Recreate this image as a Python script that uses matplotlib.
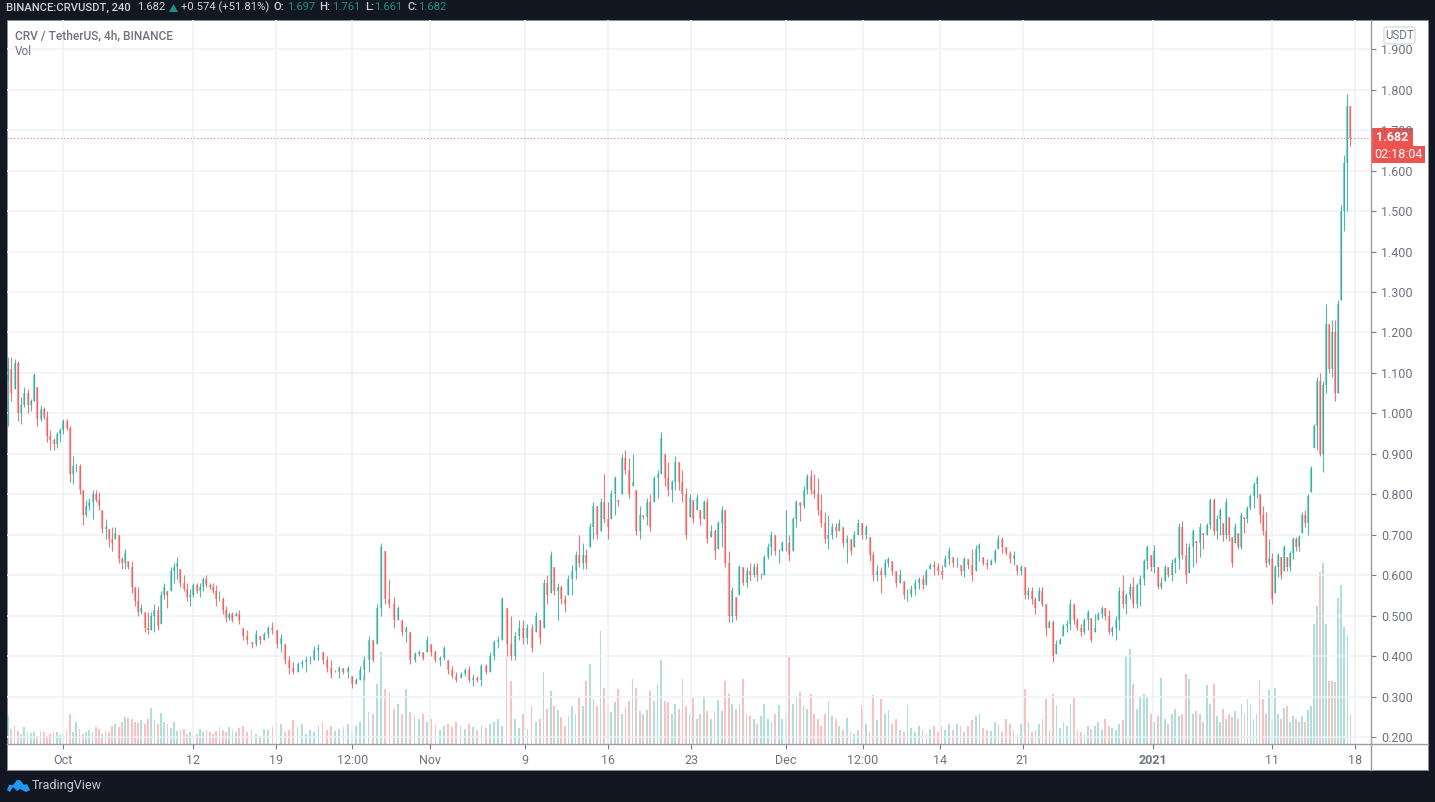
import numpy as np
import matplotlib
matplotlib.use('Agg')
import matplotlib.pyplot as plt
from matplotlib.patches import Rectangle, FancyBboxPatch, Polygon

W, H = 1435, 802
plt.rcParams['font.family'] = ['Roboto', 'DejaVu Sans']

DARK = '#131722'
UP = '#26a69a'
DOWN = '#ef5350'
GRID = '#edf1f6'
TXT = '#6f7280'

# each stretch of candles left to right (low, high, close, volume)
lows_a = [.97,1.03,1.06,.98,.975,1.015,1.0,1.005,1.03,.97,
          .98,.985,.93,.91,.91,.915,.93,.95,.96,.83,
          .825,.855,.80,.725,.745,.76,.74,.78,.76,.705,
          .69,.67,.66,.69,.63,.615,.615,.615,.555,.525,
          .50,.505,.46,.455,.465,.46,.465,.48,.54,.52,
          .56,.58,.59,.57,.56,.535,.525,.545,.555,.545,
          .56,.57,.565,.555,.525,.535,.505,.485,.49,.485,
          .50]
highs_a = [1.14,1.14,1.135,1.13,1.04,1.065,1.06,1.035,1.10,1.065,
           1.02,1.015,1.005,.96,.94,.955,.965,.985,.985,.97,
           .895,.875,.875,.81,.785,.79,.81,.81,.805,.76,
           .74,.715,.72,.72,.70,.645,.665,.635,.635,.57,
           .57,.53,.51,.51,.51,.53,.525,.56,.58,.56,
           .62,.63,.645,.615,.60,.58,.565,.58,.58,.58,
           .595,.60,.58,.58,.575,.56,.545,.525,.51,.51,
           .51]
closes_a = [1.11,1.05,1.125,1.00,1.02,1.05,1.02,1.03,1.095,.985,
            1.01,.99,.945,.935,.925,.95,.96,.98,.965,.85,
            .87,.87,.81,.75,.77,.78,.80,.785,.77,.715,
            .72,.69,.68,.705,.64,.63,.655,.62,.57,.535,
            .51,.52,.47,.465,.50,.515,.475,.55,.57,.55,
            .61,.62,.63,.58,.565,.545,.55,.575,.56,.57,
            .59,.575,.57,.56,.54,.54,.515,.495,.505,.49,
            .505]
vols_a = [28,15,18,13,10,17,12,11,12,8,
          13,12,8,10,12,12,9,10,14,30,
          12,22,15,10,12,14,12,17,15,10,
          13,12,18,20,17,22,27,26,25,22,
          21,24,20,25,36,24,20,31,22,20,
          16,22,13,14,15,10,12,8,10,15,
          12,14,12,10,13,17,14,12,17,14,
          12]

lows_b = [.48,.44,.43,.42,.425,.43,.44,.445,.455,.42,
          .41,.38,.355,.355,.36,.37,.36,.38,.39,.39,
          .38,.36,.345,.36,.345,.355,.345,.32,.33,.34,
          .34,.36,.385,.43,.50,.53,.52,.47,.49,.45,
          .435,.38,.385,.40,.39,.41,.40,.385,.375,.39,
          .355,.345,.335,.345,.35,.335,.325,.335,.325,.355,
          .36,.39,.42,.44,.40,.39,.39,.44,.43,.43,
          .41,.46]
highs_b = [.515,.47,.465,.435,.465,.45,.46,.475,.485,.465,
           .455,.43,.40,.385,.385,.39,.40,.40,.425,.43,
           .41,.40,.39,.365,.375,.37,.375,.35,.345,.375,
           .40,.45,.44,.53,.68,.66,.59,.545,.525,.49,
           .475,.46,.41,.415,.41,.45,.43,.415,.40,.425,
           .39,.375,.36,.36,.37,.375,.355,.35,.38,.38,
           .41,.44,.45,.545,.52,.50,.46,.49,.49,.48,
           .48,.51]
closes_b = [.49,.45,.44,.43,.455,.44,.455,.47,.465,.43,
            .445,.39,.37,.36,.38,.385,.39,.39,.415,.42,
            .39,.37,.355,.36,.37,.36,.37,.33,.34,.365,
            .39,.44,.39,.52,.67,.54,.53,.49,.52,.46,
            .47,.39,.405,.41,.395,.44,.41,.39,.395,.42,
            .365,.35,.34,.355,.365,.34,.345,.34,.375,.36,
            .40,.435,.44,.54,.43,.40,.45,.47,.445,.47,
            .42,.50]
vols_b = [16,18,12,14,10,8,15,14,17,22,
          20,12,14,24,17,20,10,14,12,18,
          22,14,18,13,15,17,20,14,18,22,
          69,32,30,60,92,55,52,35,40,30,
          55,32,28,25,30,22,25,19,14,18,
          20,17,22,18,15,20,17,14,18,16,
          20,22,25,18,87,63,25,16,30,15,
          38,22]

lows_c = [.43,.47,.53,.555,.55,.49,.53,.51,.55,.55,
          .59,.62,.615,.615,.67,.69,.69,.71,.73,.69,
          .74,.75,.77,.80,.85,.79,.82,.70,.69,.74,
          .725,.71,.78,.79,.85,.82,.795,.78,.81,.81,
          .78,.69,.745,.73,.76,.725,.74,.68,.695,.64,
          .665,.67,.62,.485,.485,.49,.55,.575,.57,.585,
          .595,.585,.59,.60,.64,.65,.65,.63,.66,.66,
          .635,.66,.72,.735,.765,.80,.80,.79,.75,.72,
          .68,.665,.69,.695]
highs_c = [.49,.59,.60,.66,.62,.58,.575,.55,.60,.625,
           .66,.70,.68,.665,.73,.78,.77,.79,.85,.78,
           .81,.845,.785,.90,.91,.89,.90,.81,.77,.75,
           .79,.80,.845,.86,.955,.90,.88,.835,.895,.88,
           .86,.815,.80,.785,.80,.76,.785,.79,.725,.715,
           .735,.77,.76,.66,.57,.545,.625,.62,.62,.63,
           .63,.63,.605,.65,.68,.71,.70,.665,.685,.76,
           .70,.745,.785,.78,.82,.85,.86,.85,.84,.80,
           .755,.75,.73,.73]
closes_c = [.445,.58,.55,.65,.56,.57,.54,.53,.59,.61,
            .65,.63,.65,.63,.72,.77,.70,.78,.74,.72,
            .80,.84,.78,.89,.86,.80,.83,.71,.75,.745,
            .78,.72,.84,.85,.94,.84,.81,.83,.88,.83,
            .80,.70,.79,.74,.79,.74,.78,.69,.71,.66,
            .73,.76,.63,.50,.56,.50,.62,.58,.61,.60,
            .62,.60,.60,.645,.67,.70,.66,.66,.68,.68,
            .65,.74,.78,.77,.81,.845,.81,.80,.76,.73,
            .69,.70,.72,.71]
vols_c = [25,72,35,53,38,34,27,18,28,38,
          30,47,38,63,80,45,38,113,56,40,
          32,42,55,30,37,43,65,56,33,30,
          34,53,43,60,84,43,42,30,40,35,
          65,38,30,46,25,30,48,33,25,33,
          44,33,63,50,40,35,40,65,30,28,
          25,20,28,40,25,22,30,39,25,30,
          87,40,48,52,38,35,50,30,25,18,
          30,43,28,25]

lows_d = [.71,.67,.63,.65,.67,.70,.69,.69,.635,.585,
          .585,.555,.595,.62,.60,.57,.58,.54,.535,.545,
          .55,.565,.565,.575,.615,.60,.60,.59,.62,.625,
          .62,.62,.60,.595,.615,.585,.61,.635,.625,.615,
          .625,.63,.665,.655,.65,.63,.625,.60,.60,.54,
          .54,.53,.505,.535,.525,.45,.47,.385,.405,.43,
          .45,.46,.465,.48,.465,.45,.455,.465,.435,.46,
          .49,.495,.49,.455,.45,.44,.465,.52,.505,.54,
          .52,.52,.525,.575,.615,.61,.605,.565,.565,.585,
          .595,.585,.605,.615,.64,.58,.605,.62,.63,.645,
          .665,.70,.715,.70]
highs_d = [.74,.72,.70,.69,.71,.74,.73,.725,.695,.66,
           .625,.62,.64,.645,.635,.61,.615,.585,.565,.575,
           .59,.595,.60,.615,.63,.635,.63,.625,.65,.67,
           .645,.645,.625,.645,.64,.665,.675,.68,.645,.64,
           .64,.665,.70,.695,.67,.66,.66,.625,.625,.62,
           .57,.57,.545,.57,.57,.53,.49,.49,.44,.445,
           .48,.49,.54,.53,.495,.48,.495,.515,.495,.505,
           .51,.525,.52,.515,.475,.50,.57,.60,.555,.58,
           .595,.58,.60,.64,.675,.65,.675,.62,.595,.625,
           .62,.64,.645,.73,.735,.68,.68,.715,.685,.73,
           .705,.73,.79,.79]
closes_d = [.73,.68,.69,.66,.70,.73,.70,.72,.65,.60,
            .61,.60,.63,.64,.61,.58,.60,.55,.55,.565,
            .58,.59,.575,.61,.625,.62,.61,.60,.64,.66,
            .63,.63,.61,.64,.625,.60,.665,.675,.63,.625,
            .635,.66,.69,.67,.655,.64,.65,.61,.62,.55,
            .56,.54,.52,.56,.53,.47,.485,.40,.43,.44,
            .475,.48,.53,.49,.47,.46,.49,.51,.44,.47,
            .505,.52,.50,.46,.47,.49,.56,.53,.55,.57,
            .53,.575,.59,.635,.67,.62,.66,.57,.58,.62,
            .60,.63,.64,.72,.65,.60,.67,.71,.68,.72,
            .70,.725,.785,.71]
vols_d = [18,14,26,12,10,14,39,20,12,49,
          24,45,30,34,20,25,14,12,39,16,
          12,18,14,10,15,18,12,18,14,20,
          14,20,18,12,18,24,28,30,16,14,
          13,22,20,12,25,20,14,10,20,55,
          22,12,14,20,25,45,14,50,39,16,
          22,18,40,47,14,12,10,18,15,18,
          22,14,25,18,16,14,20,24,88,95,
          60,35,48,50,48,30,22,28,66,25,
          20,30,35,28,30,70,65,30,33,30,
          22,59,40,60]

lows_e = [.69,.70,.685,.69,.685,.62,.68,.665,.665,.705,
          .73,.76,.765,.79,.73,.70,.62,.625,.53,.555,
          .595,.59,.61,.61,.61,.64,.66,.66,.705,.72,
          .70,.805,.915,.91,.895,.855,1.05,1.10,1.09,1.03,
          1.05,1.28,1.45,1.50,1.661]
highs_e = [.75,.765,.73,.79,.745,.695,.73,.705,.755,.745,
           .77,.80,.83,.845,.80,.77,.755,.69,.655,.625,
           .655,.645,.675,.645,.66,.695,.695,.70,.755,.76,
           .80,.87,.975,1.09,1.10,1.08,1.27,1.22,1.23,1.23,
           1.28,1.515,1.64,1.79,1.761]
closes_e = [.74,.76,.70,.78,.70,.63,.72,.67,.75,.74,
            .765,.795,.825,.84,.75,.71,.63,.64,.54,.62,
            .65,.60,.67,.62,.655,.69,.67,.695,.75,.73,
            .795,.865,.97,1.08,.90,1.07,1.22,1.11,1.20,1.05,
            1.27,1.50,1.62,1.76,1.682]
vols_e = [28,22,35,25,30,27,33,25,40,30,
          45,40,25,30,64,45,30,54,25,56,
          30,25,36,38,22,28,25,22,28,22,
          34,38,120,138,172,181,120,63,63,62,
          146,159,117,109,30]

price_ticks = [0.2, 0.3, 0.4, 0.5, 0.6, 0.7, 0.8, 0.9, 1.0, 1.1, 1.2, 1.3, 1.4, 1.5, 1.6, 1.7, 1.8, 1.9]
# days counted from 1 Oct
time_ticks = [0, 11, 18, 24.43, 31, 39, 46, 53, 61, 67.5, 74, 81, 92, 102, 109]
time_labels = ['Oct', '12', '19', '12:00', 'Nov', '9', '16', '23', 'Dec', '12:00', '14', '21', '2021', '11', '18']
last_price = 1.682

# the stretches do not hold the same number of candles per day as I read them, so each gets its own span
section_days = [-4.64, 14.85, 40.25, 65.5, 81.18, 97.4, 108.9]
D_SPLIT = 49
sections = [(lows_a, highs_a, closes_a, vols_a), (lows_b, highs_b, closes_b, vols_b),
            (lows_c, highs_c, closes_c, vols_c),
            (lows_d[:D_SPLIT], highs_d[:D_SPLIT], closes_d[:D_SPLIT], vols_d[:D_SPLIT]),
            (lows_d[D_SPLIT:], highs_d[D_SPLIT:], closes_d[D_SPLIT:], vols_d[D_SPLIT:]),
            (lows_e, highs_e, closes_e, vols_e)]

days = np.concatenate([np.linspace(section_days[i], section_days[i+1], len(s[0]), endpoint=False)
                       for i, s in enumerate(sections)])
lows = np.concatenate([s[0] for s in sections])
highs = np.concatenate([s[1] for s in sections])
closes = np.concatenate([s[2] for s in sections])
vols = np.concatenate([s[3] for s in sections])
opens = np.clip(np.r_[closes[0] - 0.03, closes[:-1]], lows, highs)
colors = np.where(closes >= opens, UP, DOWN)


def fx(px):
    return px / W


def fy(py):
    return 1 - py / H


fig = plt.figure(figsize=(W / 100, H / 100), dpi=100, facecolor=DARK)
fig.patches.append(Rectangle((fx(7), fy(770)), fx(1421), 750 / H, transform=fig.transFigure,
                             fc='white', ec='#8a8d96', lw=0.6, zorder=-5))

ax = fig.add_axes([fx(7), fy(744), 1364 / W, 724 / H], facecolor='none')
ax.set_xlim(-4.726, 110.38)
ax.set_ylim(0.1827, 1.9725)
ax.grid(True, color=GRID, lw=1.1)
ax.set_axisbelow(True)

vol_ax = ax.twinx()
vol_ax.set_ylim(0, 724)
vol_ax.axis('off')
vol_ax.bar(days, vols, width=0.15, color=colors, alpha=0.36, lw=0)

ax.set_zorder(vol_ax.get_zorder() + 1)
ax.vlines(days, lows, highs, colors=colors, lw=0.8, alpha=0.8)
ax.vlines(days, np.minimum(opens, closes), np.maximum(opens, closes), colors=colors, lw=1.6, alpha=0.5)
ax.axhline(last_price, color=DOWN, lw=0.8, ls=(0, (1, 2)), alpha=0.8)

ax.yaxis.tick_right()
ax.set_yticks(price_ticks)
ax.set_yticklabels(['%.3f' % p for p in price_ticks], fontsize=9, color=TXT)
ax.set_xticks(time_ticks)
ax.set_xticklabels(time_labels, fontsize=9, color=TXT)
ax.get_xticklabels()[12].set_fontweight('bold')
ax.tick_params(axis='both', length=3.5, width=0.8, color='#787b86', pad=4)
for side in ['top', 'left']:
    ax.spines[side].set_visible(False)
for side in ['bottom', 'right']:
    ax.spines[side].set_color('#9a9da6')
    ax.spines[side].set_linewidth(1.0)

# axis lines carry on past the pane
fig.add_artist(plt.Line2D([fx(1371), fx(1428)], [fy(744), fy(744)], color='#9a9da6', lw=1.0))
fig.add_artist(plt.Line2D([fx(1371), fx(1371)], [fy(744), fy(770)], color='#9a9da6', lw=1.0))

# price labels on the right
fig.add_artist(Rectangle((fx(1371), fy(146)), 42 / W, 18 / H, transform=fig.transFigure, fc=DOWN, ec='none'))
fig.add_artist(Rectangle((fx(1372), fy(163)), 53 / W, 17 / H, transform=fig.transFigure, fc=DOWN, ec='none'))
fig.text(fx(1392), fy(137.5), '1.682', color='white', fontsize=9, fontweight='bold', ha='center', va='center')
fig.text(fx(1398.5), fy(155), '02:18:04', color='white', fontsize=9, ha='center', va='center')
fig.add_artist(FancyBboxPatch((fx(1384), fy(44)), 31 / W, 17 / H, transform=fig.transFigure,
                              boxstyle='round,pad=0,rounding_size=0.003', fc='white', ec='#d8dbe3', lw=1))
fig.text(fx(1399.5), fy(35.5), 'USDT', color=TXT, fontsize=8.3, ha='center', va='center')

# pane legend
fig.text(fx(15), fy(36), 'CRV / TetherUS, 4h, BINANCE', color='#6f7280', fontsize=8.6, fontweight='medium', va='center')
fig.text(fx(15), fy(51.5), 'Vol', color='#6f7280', fontsize=8.6, va='center')

# header strip
HEAD = '#d1d4dc'
TEAL = '#1f8f85'
header = [(6, 'BINANCE:CRVUSDT, 240', HEAD, 'medium'), (137, '1.682', HEAD, 'normal'),
          (181, '+0.574 (+51.81%)', HEAD, 'normal'), (273, 'O:', HEAD, 'medium'),
          (287, '1.697', TEAL, 'normal'), (319, 'H:', HEAD, 'medium'), (332, '1.761', TEAL, 'normal'),
          (365, 'L:', HEAD, 'medium'), (374, '1.661', TEAL, 'normal'), (407, 'C:', HEAD, 'medium'),
          (418, '1.682', TEAL, 'normal')]
for hx, label, col, weight in header:
    fig.text(fx(hx), fy(7.5), label, color=col, fontsize=8.1, fontweight=weight, va='center')
fig.add_artist(Polygon([(fx(169), fy(12)), (fx(178), fy(12)), (fx(173.5), fy(4))], closed=True,
                       transform=fig.transFigure, fc=TEAL, ec='none'))

# TradingView mark
cloud = [(7, 790), (9, 785), (13, 785), (17, 780), (20, 780), (24, 785), (27, 784), (30, 790), (26, 792),
         (20, 789), (17, 791), (13, 787), (10, 792)]
fig.add_artist(Polygon([(fx(a), fy(b)) for a, b in cloud], closed=True, transform=fig.transFigure,
                       fc='#2196f3', ec='none'))
fig.text(fx(32), fy(786), 'TradingView', color='#c8cbd3', fontsize=9, va='center')

plt.savefig('out.png', dpi=100, facecolor=DARK)
